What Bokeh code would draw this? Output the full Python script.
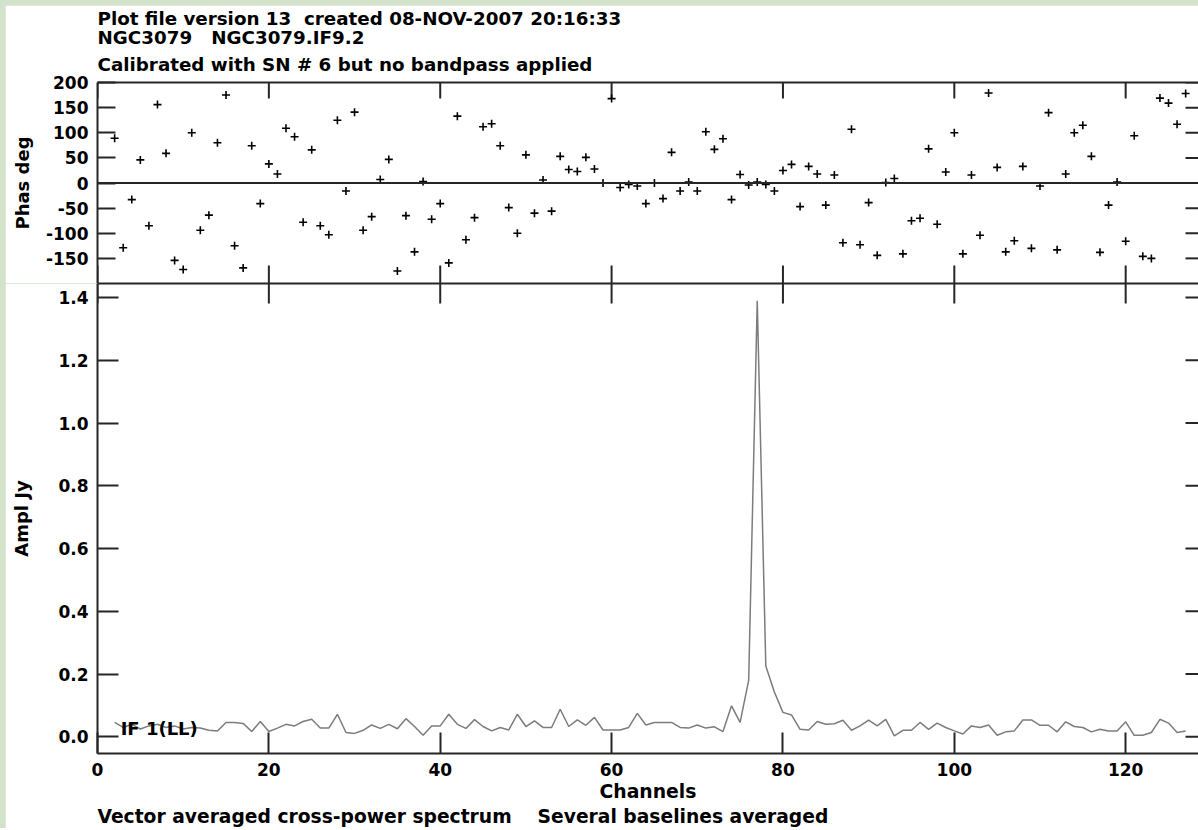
import numpy as np
from bokeh.plotting import figure
from bokeh.models import LinearAxis, FixedTicker, Span, Label, Range1d, Title
from bokeh.layouts import column
from bokeh.embed import file_html
from bokeh.resources import INLINE

# ---------------- data ----------------
channels = list(range(2, 128))

phase_deg = [89, -129, -33, 46, -85, 156, 59, -154, -172, 100,
             -94, -64, 80, 175, -125, -169, 74, -41, 38, 18,
             109, 92, -78, 66, -85, -103, 125, -16, 141, -94,
             -67, 7, 47, -175, -65, -137, 3, -72, -41, -159,
             133, -113, -69, 112, 118, 74, -49, -100, 56, -60,
             6, -56, 53, 27, 23, 51, 28, 0, 168, -9,
             -3, -6, -41, 0, -31, 61, -16, 2, -16, 102,
             67, 88, -33, 17, -4, 2, -3, -16, 25, 37,
             -47, 33, 18, -44, 16, -119, 107, -123, -39, -144,
             1, 9, -141, -75, -70, 68, -82, 22, 100, -141,
             16, -104, 179, 31, -137, -115, 33, -130, -6, 140,
             -133, 18, 100, 115, 53, -138, -44, 2, -116, 94,
             -146, -150, 169, 159, 117, 178]

ampl_jy = [0.046, 0.030, 0.040, 0.025, 0.035, 0.040, 0.030, 0.035, 0.025, 0.030,
           0.028, 0.021, 0.019, 0.046, 0.046, 0.043, 0.017, 0.049, 0.017, 0.028,
           0.040, 0.035, 0.049, 0.056, 0.028, 0.028, 0.072, 0.014, 0.011, 0.021,
           0.038, 0.027, 0.040, 0.026, 0.058, 0.033, 0.005, 0.035, 0.035, 0.072,
           0.040, 0.027, 0.055, 0.033, 0.019, 0.030, 0.022, 0.072, 0.033, 0.051,
           0.030, 0.030, 0.088, 0.033, 0.054, 0.037, 0.062, 0.022, 0.022, 0.022,
           0.030, 0.075, 0.038, 0.046, 0.046, 0.046, 0.030, 0.028, 0.038, 0.028,
           0.032, 0.017, 0.099, 0.046, 0.180, 1.390, 0.226, 0.143, 0.078, 0.070,
           0.024, 0.022, 0.049, 0.040, 0.042, 0.053, 0.021, 0.035, 0.053, 0.035,
           0.056, 0.003, 0.021, 0.021, 0.046, 0.024, 0.044, 0.030, 0.019, 0.009,
           0.035, 0.030, 0.038, 0.005, 0.016, 0.019, 0.054, 0.054, 0.037, 0.037,
           0.016, 0.048, 0.033, 0.030, 0.016, 0.024, 0.019, 0.019, 0.048, 0.005,
           0.005, 0.014, 0.056, 0.044, 0.014, 0.019]

x_ticks = [0, 20, 40, 60, 80, 100, 120]
x_tick_labels = ["0", "20", "40", "60", "80", "100", "120"]
phase_ticks = [-150, -100, -50, 0, 50, 100, 150, 200]
phase_tick_labels = ["-150", "-100", "-50", "0", "50", "100", "150", "200"]
ampl_ticks = [0.0, 0.2, 0.4, 0.6, 0.8, 1.0, 1.2, 1.4]
ampl_tick_labels = ["0.0", "0.2", "0.4", "0.6", "0.8", "1.0", "1.2", "1.4"]

title_lines = ["Plot file version 13\u00a0\u00a0created 08-NOV-2007 20:16:33",
               "NGC3079\u00a0\u00a0\u00a0NGC3079.IF9.2",
               "Calibrated with SN # 6 but no bandpass applied"]
footer_text = "Vector averaged cross-power spectrum\u00a0\u00a0\u00a0\u00a0Several baselines averaged"
if_label = "IF 1(LL)"

# ---------------- style ----------------
FONT = "DejaVu Sans"
INK = "#262626"
GREEN = "#d3e3cb"
X_START, X_END = 0, 128.5
PH_START, PH_END = -200, 200
AM_START, AM_END = -0.053, 1.445


def style_axis(ax, tick_in=0, show_labels=True, lab_size="17px", standoff=9):
    ax.axis_line_color = INK
    ax.axis_line_width = 2
    ax.major_tick_line_color = INK
    ax.major_tick_line_width = 2
    ax.major_tick_in = tick_in
    ax.major_tick_out = 0
    ax.minor_tick_line_color = None
    ax.minor_tick_in = 0
    ax.minor_tick_out = 0
    ax.major_label_text_font = FONT
    ax.major_label_text_font_style = "bold"
    ax.major_label_text_font_size = lab_size
    ax.major_label_text_color = "black"
    ax.major_label_standoff = standoff if show_labels else 0
    ax.axis_label_text_font = FONT
    ax.axis_label_text_font_style = "bold"
    ax.axis_label_text_font_size = "18px"
    ax.axis_label_text_color = "black"


def line_axis():
    # axis that draws only the frame line (its ticks are drawn as rays)
    ax = LinearAxis(ticker=FixedTicker(ticks=[]))
    style_axis(ax, 0, show_labels=False)
    return ax


def new_fig(height, y_range, top, bottom):
    p = figure(width=1193, height=height, x_range=Range1d(X_START, X_END), y_range=y_range,
               output_backend="svg", toolbar_location=None,
               x_axis_location=None, y_axis_location=None,
               min_border_left=92, min_border_right=0,
               min_border_top=top, min_border_bottom=bottom)
    p.outline_line_color = None
    p.background_fill_color = "white"
    p.border_fill_color = "white"
    p.xgrid.grid_line_color = None
    p.ygrid.grid_line_color = None
    return p


def text_title(txt, standoff, size="18.3px"):
    return Title(text=txt, align="left", text_font=FONT, text_font_style="bold",
                 text_font_size=size, text_color="black", standoff=standoff, offset=0)


def x_tick_rays(p, y, length, up):
    p.ray(x=x_ticks, y=[y] * len(x_ticks), length=length, length_units="screen",
          angle=np.pi / 2 if up else -np.pi / 2, line_color=INK, line_width=2)


def right_tick_rays(p, ticks, length):
    p.ray(x=[X_END] * len(ticks), y=ticks, length=length, length_units="screen",
          angle=np.pi, line_color=INK, line_width=2)


# ---------------- phase panel ----------------
p1 = new_fig(278, Range1d(PH_START, PH_END), 77, 0)
p1.margin = (5, 0, 0, 5)

ax = LinearAxis(ticker=FixedTicker(ticks=phase_ticks),
                major_label_overrides=dict(zip(phase_ticks, phase_tick_labels)),
                axis_label="Phas deg")
style_axis(ax, 18)
ax.axis_label_standoff = 10
p1.add_layout(ax, "left")
p1.add_layout(line_axis(), "above")
p1.add_layout(line_axis(), "below")

p1.add_layout(Span(location=0, dimension="width", line_color=INK, line_width=2))
x_tick_rays(p1, PH_END, 16, up=False)
x_tick_rays(p1, PH_START, 18, up=True)
right_tick_rays(p1, phase_ticks, 13)
p1.scatter(channels, phase_deg, marker="cross", size=8, line_width=1.6, color="black")

# title lines (closest to the frame first)
p1.add_layout(text_title(title_lines[2], 16), "above")
p1.add_layout(text_title(title_lines[1], -8), "above")
p1.add_layout(text_title(title_lines[0], -1), "above")

# ---------------- amplitude panel ----------------
p2 = new_fig(545, Range1d(AM_START, AM_END), 0, 75)
p2.x_range = p1.x_range
p2.margin = (0, 0, 0, 5)

ax = LinearAxis(ticker=FixedTicker(ticks=ampl_ticks),
                major_label_overrides=dict(zip(ampl_ticks, ampl_tick_labels)),
                axis_label="Ampl Jy")
style_axis(ax, 21)
ax.axis_label_standoff = 23
p2.add_layout(ax, "left")
p2.add_layout(line_axis(), "above")

ax = LinearAxis(ticker=FixedTicker(ticks=x_ticks),
                major_label_overrides=dict(zip(x_ticks, x_tick_labels)),
                axis_label="Channels")
style_axis(ax, 21)
ax.axis_label_standoff = 2
ax.axis_label_text_font_size = "18.8px"
p2.add_layout(ax, "below")

x_tick_rays(p2, AM_END, 20, up=False)
right_tick_rays(p2, ampl_ticks, 13)
p2.line(channels, ampl_jy, line_color="#7c7c7c", line_width=1.5)

p2.add_layout(Label(x=2.7, y=0.028, text=if_label, text_font=FONT, text_font_style="bold",
                    text_font_size="18px", text_color="black",
                    text_baseline="alphabetic", text_align="left"))
p2.add_layout(text_title(footer_text, -2, size="18.7px"), "below")

layout = column(p1, p2, spacing=0, styles={"background-color": GREEN})

with open("out.html", "w") as f:
    f.write(file_html(layout, INLINE))
